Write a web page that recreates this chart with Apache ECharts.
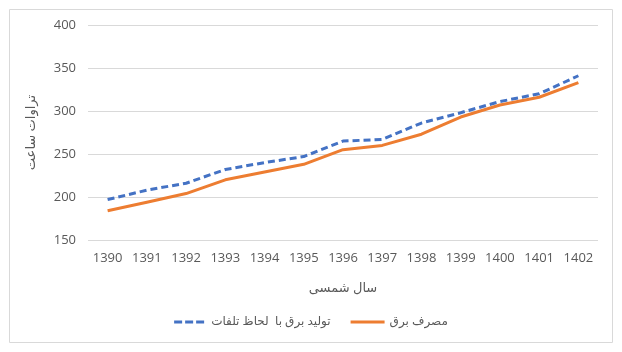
<!DOCTYPE html>
<html>
<head>
<meta charset="utf-8">
<script src="https://cdn.jsdelivr.net/npm/echarts@6/dist/echarts.min.js"></script>
<style>
  html, body { margin: 0; padding: 0; background: #fff; }
  #chart { width: 622px; height: 352px; }
</style>
</head>
<body>
<div id="chart"></div>
<script>
// سال شمسی
const years = ['1390', '1391', '1392', '1393', '1394', '1395', '1396', '1397', '1398', '1399', '1400', '1401', '1402'];
// تولید برق با لحاظ تلفات
const production = [197, 208, 216, 232, 240, 247, 265, 267, 286, 298, 311, 320, 341];
// مصرف برق
const consumption = [184, 194, 204, 220, 229, 238, 255, 260, 273, 293, 307, 316, 333];
const seriesNames = ['تولید برق با  لحاظ تلفات', 'مصرف برق'];

const font = 'Open Sans, DejaVu Sans, sans-serif';
const textColor = '#595959';

let chart = echarts.init(document.getElementById('chart'));
let option = {
  animation: false,
  graphic: [{
    type: 'rect',
    shape: { x: 9.5, y: 9.5, width: 603, height: 333 },
    style: { fill: 'none', stroke: '#d9d9d9', lineWidth: 1 },
    silent: true
  }],
  grid: { left: 88, right: 24, top: 25, bottom: 112 },
  legend: {
    bottom: 19,
    left: 'center',
    itemWidth: 34,
    itemHeight: 3,
    itemGap: 20,
    textStyle: { color: textColor, fontSize: 12, fontFamily: font },
    data: [
      { name: seriesNames[0], icon: 'path://M0,0H8V3H0Z M11,0H19V3H11Z M22,0H30V3H22Z' },
      { name: seriesNames[1], icon: 'rect' }
    ]
  },
  xAxis: {
    type: 'category',
    data: years,
    name: 'سال شمسی',
    nameLocation: 'middle',
    nameGap: 42,
    nameTextStyle: { color: textColor, fontSize: 13, fontFamily: font },
    axisLine: { show: false },
    axisTick: { show: false },
    axisLabel: { color: textColor, fontSize: 13, fontFamily: font, margin: 12 }
  },
  yAxis: {
    type: 'value',
    min: 150,
    max: 400,
    interval: 50,
    name: 'تراوات ساعت',
    nameLocation: 'middle',
    nameGap: 50,
    nameTextStyle: { color: textColor, fontSize: 13, fontFamily: font },
    axisLabel: { color: textColor, fontSize: 13, fontFamily: font, margin: 12 },
    splitLine: { lineStyle: { color: '#d9d9d9' } }
  },
  series: [
    {
      name: seriesNames[0],
      type: 'line',
      data: production,
      symbol: 'none',
      color: '#4472C4',
      lineStyle: { width: 3, type: [7, 4], color: '#4472C4' }
    },
    {
      name: seriesNames[1],
      type: 'line',
      data: consumption,
      symbol: 'none',
      color: '#ED7D31',
      lineStyle: { width: 3, color: '#ED7D31' }
    }
  ]
};
chart.setOption(option, true);
</script>
</body>
</html>
